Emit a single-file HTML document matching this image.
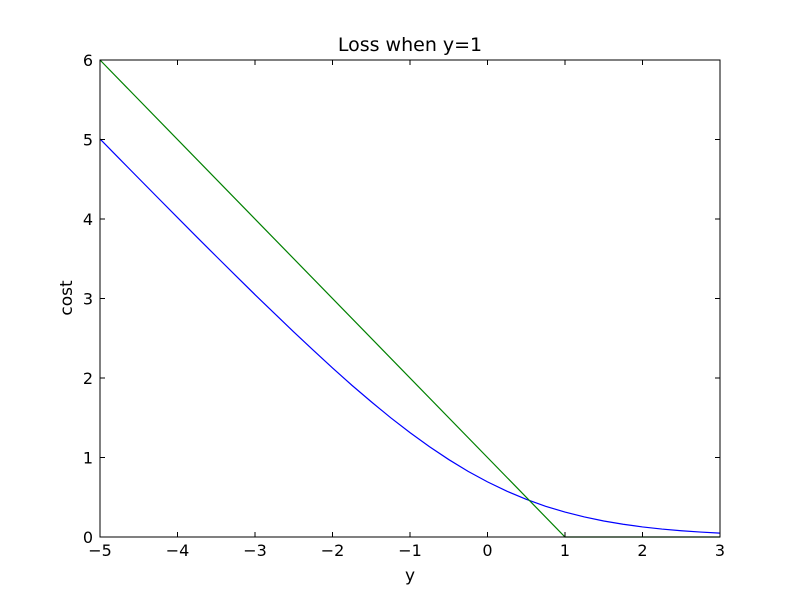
<!DOCTYPE html>
<html><head><meta charset="utf-8"><style>
body{margin:0;background:#fff;}
svg{display:block;font-family:"DejaVu Sans","Liberation Sans",sans-serif;}
</style></head><body>
<svg id="chart" width="800" height="596"></svg>
<script>
const xTicks=[-5,-4,-3,-2,-1,0,1,2,3];
const yTicks=[0,1,2,3,4,5,6];
const xTickLabels=["\u22125","\u22124","\u22123","\u22122","\u22121","0","1","2","3"];
const yTickLabels=["0","1","2","3","4","5","6"];
const logisticZ=[-5,-4.75,-4.5,-4.25,-4,-3.75,-3.5,-3.25,-3,-2.75,-2.5,-2.25,-2,-1.75,-1.5,-1.25,-1,-0.75,-0.5,-0.25,0,0.25,0.5,0.75,1,1.25,1.5,1.75,2,2.25,2.5,2.75,3];
const logisticCost=[5.0067,4.7587,4.5110,4.2642,4.0181,3.7733,3.5298,3.2884,3.0486,2.8131,2.5789,2.3508,2.1269,1.9088,1.7014,1.5005,1.3133,1.1369,0.9741,0.8259,0.6931,0.5759,0.4741,0.3861,0.3133,0.2519,0.2014,0.1602,0.1269,0.1000,0.0789,0.0620,0.0486];
const hingeZ=[-5,1,3];
const hingeCost=[6,0,0];

const NS="http://www.w3.org/2000/svg";
const svg=document.getElementById('chart');
const L=100,R=720,T=60,B=537;
const sx=v=>L+(v+5)/8*(R-L);
const sy=v=>B-v/6*(B-T);
function mk(tag,attrs,parent){const e=document.createElementNS(NS,tag);for(const k in attrs)e.setAttribute(k,attrs[k]);(parent||svg).appendChild(e);return e;}

function line(xs,ys,color,name){
  const p=mk('polyline',{points:xs.map((x,i)=>sx(x)+','+sy(ys[i])).join(' '),fill:'none',stroke:color,'stroke-width':1.2});
  
  
}
line(logisticZ,logisticCost,'#0000ff','logistic-loss-line');
line(hingeZ,hingeCost,'#008000','hinge-loss-line');

const frame=mk('rect',{x:L,y:T,width:R-L,height:B-T,fill:'none',stroke:'#000','stroke-width':1});



xTicks.forEach((v,i)=>{
  const x=sx(v);
  mk('line',{x1:x,x2:x,y1:B,y2:B-5,stroke:'#000'});
  mk('line',{x1:x,x2:x,y1:T,y2:T+5,stroke:'#000'});
  const t=mk('text',{x:x,y:B+19,'text-anchor':'middle','font-size':16});
  t.textContent=xTickLabels[i];
  
  
});
yTicks.forEach((v,i)=>{
  const y=sy(v);
  mk('line',{x1:L,x2:L+5,y1:y,y2:y,stroke:'#000'});
  mk('line',{x1:R,x2:R-5,y1:y,y2:y,stroke:'#000'});
  const t=mk('text',{x:L-7,y:y+6,'text-anchor':'end','font-size':16});
  t.textContent=yTickLabels[i];
  
  
});
</script>
<div style="position:absolute;left:0;top:0;width:800px;height:596px;pointer-events:none;font-family:'DejaVu Sans','Liberation Sans',sans-serif;">
  <div style="position:absolute;left:0;width:820px;top:34px;text-align:center;font-size:19px;">Loss when y=1</div>
  <div style="position:absolute;left:0;width:820px;top:566px;text-align:center;font-size:17px;">y</div>
  <div style="position:absolute;left:47px;top:288px;font-size:17px;transform:rotate(-90deg);transform-origin:center;width:40px;text-align:center;">cost</div>
</div>
</body></html>
